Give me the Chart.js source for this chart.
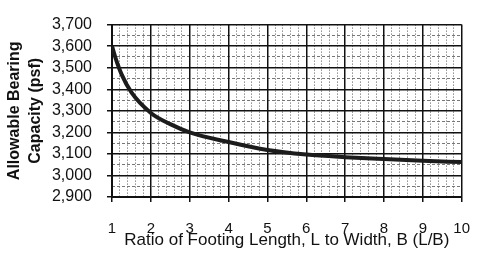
<!DOCTYPE html>
<html>
<head>
<meta charset="utf-8">
<script src="https://cdn.jsdelivr.net/npm/chart.js@4.4.1/dist/chart.umd.min.js"></script>
<style>
    body { margin: 0; background: #fff; }
    canvas { display: block; }
</style>
</head>
<body>
<canvas id="bearingChart" width="488" height="254"></canvas>
<script>
// Data
const ratios = [1, 1.1, 1.25, 1.5, 2, 2.5, 3, 4, 5, 6, 7, 8, 9, 10];
const capacity = [3600, 3540, 3468, 3385, 3290, 3238, 3200, 3155, 3118, 3097, 3085, 3076, 3068, 3062];
const xTicks = [1, 2, 3, 4, 5, 6, 7, 8, 9, 10];
const yTicks = [2900, 3000, 3100, 3200, 3300, 3400, 3500, 3600, 3700];

const fontFamily = "'Liberation Sans', Arial, sans-serif";

// minor grid lines are hidden where a major line already sits
function isMajor(value, step) {
    const r = value / step;
    return Math.abs(r - Math.round(r)) < 1e-6;
}

const points = ratios.map((r, i) => ({ x: r, y: capacity[i] }));

new Chart(document.getElementById("bearingChart"), {
    type: "line",
    data: {
        datasets: [
            {
                data: points,
                borderColor: "#1c1c1c",
                borderWidth: 4,
                pointRadius: 0,
                cubicInterpolationMode: "monotone",
                fill: false,
            },
        ],
    },
    options: {
        responsive: false,
        animation: false,
        layout: {
            padding: { top: 14, right: 8, left: 0, bottom: 0 },
        },
        plugins: {
            legend: { display: false },
            tooltip: { enabled: false },
        },
        scales: {
            xMinor: {
                type: "linear",
                position: "bottom",
                min: xTicks[0],
                max: xTicks[xTicks.length - 1],
                afterFit: (s) => { s.height = 0; },
                ticks: { display: false, stepSize: 0.2, autoSkip: false },
                border: { display: false, dash: [1, 2] },
                grid: {
                    drawTicks: false,
                    lineWidth: 1,
                    color: (ctx) => isMajor(ctx.tick.value, 1) ? "rgba(0,0,0,0)" : "#555",
                },
            },
            yMinor: {
                type: "linear",
                position: "left",
                min: yTicks[0],
                max: yTicks[yTicks.length - 1],
                afterFit: (s) => { s.width = 0; },
                ticks: { display: false, stepSize: 50, autoSkip: false },
                border: { display: false, dash: [3, 2] },
                grid: {
                    drawTicks: false,
                    lineWidth: 1,
                    color: (ctx) => isMajor(ctx.tick.value, 100) ? "rgba(0,0,0,0)" : "#777",
                },
            },
            x: {
                type: "linear",
                position: "bottom",
                min: xTicks[0],
                max: xTicks[xTicks.length - 1],
                afterFit: (s) => { s.height = 57; },
                afterBuildTicks: (s) => { s.ticks = xTicks.map((v) => ({ value: v })); },
                ticks: {
                    color: "#111",
                    padding: 18,
                    autoSkip: false,
                    maxRotation: 0,
                    font: { family: fontFamily, size: 15 },
                },
                border: { color: "#111", width: 2 },
                grid: {
                    color: "#111",
                    lineWidth: 1.5,
                    tickLength: 5,
                    tickColor: "#111",
                },
                title: {
                    display: true,
                    text: "Ratio of Footing Length, L to Width, B (L/B)",
                    color: "#111",
                    padding: { top: 0, bottom: 3 },
                    font: { family: fontFamily, size: 17 },
                },
            },
            y: {
                type: "linear",
                position: "left",
                min: yTicks[0],
                max: yTicks[yTicks.length - 1],
                afterFit: (s) => { s.width = 112; },
                afterBuildTicks: (s) => { s.ticks = yTicks.map((v) => ({ value: v })); },
                ticks: {
                    color: "#111",
                    padding: 15,
                    autoSkip: false,
                    font: { family: fontFamily, size: 16 },
                    callback: (value) => value.toLocaleString("en-US"),
                },
                border: { color: "#111", width: 2 },
                grid: {
                    color: "#111",
                    lineWidth: 1.5,
                    tickLength: 5,
                    tickColor: "#111",
                },
                title: {
                    display: true,
                    text: ["Allowable Bearing", "Capacity (psf)"],
                    color: "#111",
                    padding: { top: 4, bottom: 0 },
                    font: { family: fontFamily, size: 16, weight: "bold", lineHeight: 1.3 },
                },
            },
        },
    },
});
</script>
</body>
</html>
